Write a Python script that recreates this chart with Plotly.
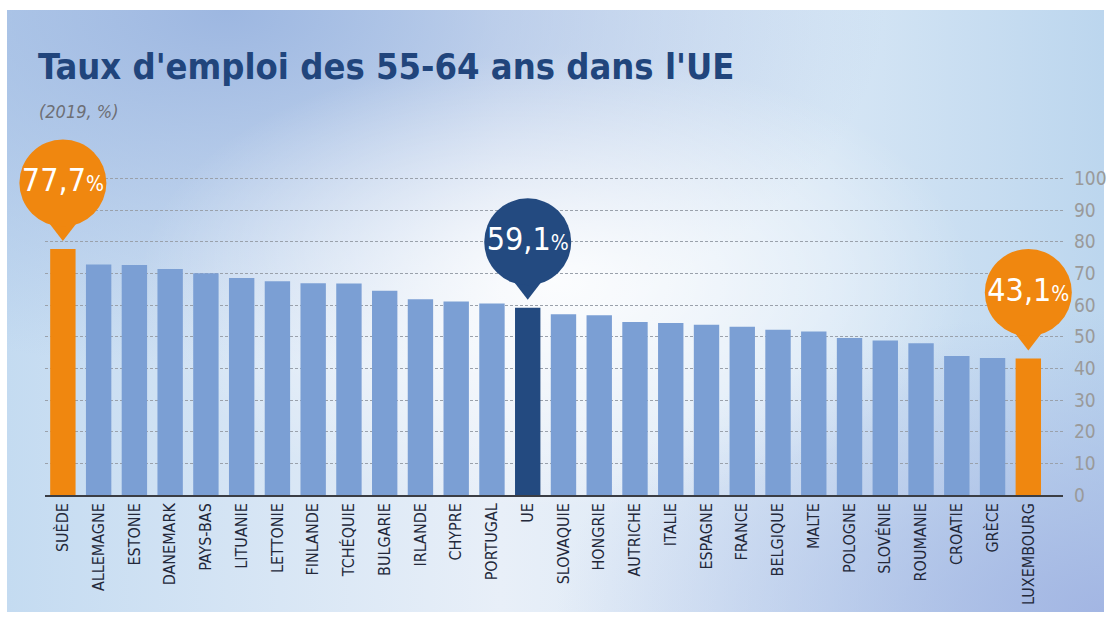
import base64
import plotly.graph_objects as go

# ---------------- data ----------------
categories = ["SUÈDE", "ALLEMAGNE", "ESTONIE", "DANEMARK", "PAYS-BAS", "LITUANIE",
              "LETTONIE", "FINLANDE", "TCHÉQUIE", "BULGARIE", "IRLANDE", "CHYPRE",
              "PORTUGAL", "UE", "SLOVAQUIE", "HONGRIE", "AUTRICHE", "ITALIE",
              "ESPAGNE", "FRANCE", "BELGIQUE", "MALTE", "POLOGNE", "SLOVÉNIE",
              "ROUMANIE", "CROATIE", "GRÈCE", "LUXEMBOURG"]
values = [77.7, 72.8, 72.6, 71.4, 70.0, 68.5, 67.5, 66.9, 66.8, 64.5, 61.8, 61.1,
          60.5, 59.1, 57.1, 56.8, 54.6, 54.3, 53.8, 53.1, 52.2, 51.6, 49.6, 48.8,
          47.9, 43.9, 43.3, 43.1]
highlight_orange = ["SUÈDE", "LUXEMBOURG"]
highlight_navy = ["UE"]
y_ticks = [0, 10, 20, 30, 40, 50, 60, 70, 80, 90, 100]

title_text = "Taux d'emploi des 55-64 ans dans l'UE"
subtitle_text = "(2019, %)"

# ---------------- style ----------------
W, H = 1112, 618
ML, MR, MT, MB = 45, 49, 172, 123
PW, PH = W - ML - MR, H - MT - MB
Y_MAX = 102
FONT = "Liberation Sans Narrow, DejaVu Sans Condensed, Roboto Condensed, Roboto, sans-serif"
BLUE = "#7b9fd4"
NAVY = "#234a80"
ORANGE = "#f0870f"


def px_x(p):
    return (p - ML) / PW


def px_y(p):
    return (H - MB - p) / PH


colors = []
for c in categories:
    if c in highlight_orange:
        colors.append(ORANGE)
    elif c in highlight_navy:
        colors.append(NAVY)
    else:
        colors.append(BLUE)

fig = go.Figure()
fig.add_trace(go.Bar(x=categories, y=values, marker=dict(color=colors, line=dict(width=0)),
                     hoverinfo="x+y"))

# callouts (circle + tail)
unit_px = PH / Y_MAX
call_cats = [c for c in categories if c in highlight_orange + highlight_navy]
call_vals = [values[categories.index(c)] for c in call_cats]
call_cols = [NAVY if c in highlight_navy else ORANGE for c in call_cats]
call_txt = [f"{v:.1f}".replace(".", ",") + "<span style='font-size:21px'>%</span>" for v in call_vals]

fig.add_trace(go.Scatter(x=call_cats, y=[v + 22 / unit_px for v in call_vals], mode="markers",
                         marker=dict(symbol="triangle-down", size=28, color=call_cols, line=dict(width=0)),
                         cliponaxis=False, hoverinfo="skip", showlegend=False))
fig.add_trace(go.Scatter(x=call_cats, y=[v + 66 / unit_px for v in call_vals], mode="markers+text",
                         marker=dict(symbol="circle", size=87, color=call_cols, line=dict(width=0)),
                         text=call_txt, textposition="middle center",
                         textfont=dict(family=FONT, size=32, color="white"),
                         cliponaxis=False, hoverinfo="skip", showlegend=False))

# background gradient image
svg = """<svg xmlns='http://www.w3.org/2000/svg' width='1097' height='602' viewBox='0 0 1097 602'>
<defs>
<linearGradient id='base' x1='0' y1='0' x2='1' y2='0'>
<stop offset='0' stop-color='#c4dbf1'/><stop offset='0.45' stop-color='#e8eff8'/>
<stop offset='0.75' stop-color='#d6e6f5'/><stop offset='1' stop-color='#bcd6ee'/></linearGradient>
<radialGradient id='tl' cx='0.2' cy='0' r='0.6' gradientUnits='objectBoundingBox'>
<stop offset='0' stop-color='#9db7e1' stop-opacity='1'/><stop offset='1' stop-color='#9db7e1' stop-opacity='0'/></radialGradient>
<radialGradient id='br' cx='1' cy='1' r='0.5'>
<stop offset='0' stop-color='#a3b6e3' stop-opacity='1'/><stop offset='1' stop-color='#a3b6e3' stop-opacity='0'/></radialGradient>
<radialGradient id='c' cx='0.5' cy='0.45' r='0.38'>
<stop offset='0' stop-color='#ffffff' stop-opacity='0.9'/><stop offset='1' stop-color='#ffffff' stop-opacity='0'/></radialGradient>
</defs>
<rect width='1097' height='602' fill='url(#base)'/>
<rect width='1097' height='602' fill='url(#tl)'/>
<rect width='1097' height='602' fill='url(#br)'/>
<rect width='1097' height='602' fill='url(#c)'/>
</svg>"""
src = "data:image/svg+xml;base64," + base64.b64encode(svg.encode()).decode()

fig.update_layout(
    width=W, height=H,
    margin=dict(l=ML, r=MR, t=MT, b=MB, pad=0, autoexpand=False),
    paper_bgcolor="white", plot_bgcolor="rgba(0,0,0,0)",
    showlegend=False, bargap=0.29,
    font=dict(family=FONT),
    images=[dict(source=src, xref="paper", yref="paper", x=px_x(7), y=px_y(10),
                 sizex=(1104 - 7) / PW, sizey=(612 - 10) / PH, sizing="stretch",
                 xanchor="left", yanchor="top", layer="below")],
    xaxis=dict(type="category", range=[-0.5, 27.97], showline=True, linecolor="#3a3d44",
               linewidth=1.5, tickangle=-90, tickfont=dict(family=FONT, size=16, color="#23283a"),
               showgrid=False, zeroline=False, ticks="", fixedrange=True, automargin=False),
    yaxis=dict(range=[0, Y_MAX], tickvals=y_ticks, side="right", showgrid=True,
               gridcolor="#9aa1ab", griddash="3px,2px", gridwidth=1, zeroline=False,
               showline=False, ticks="", ticklabelstandoff=10, automargin=False,
               tickfont=dict(family=FONT, size=19, color="#9a9a9a"), fixedrange=True),
    annotations=[
        dict(text=f"<b>{title_text}</b>", xref="paper", yref="paper", x=px_x(36), y=px_y(66),
             xanchor="left", yanchor="middle", showarrow=False,
             font=dict(family=FONT, size=36, color="#21457c")),
        dict(text=f"<i>{subtitle_text}</i>", xref="paper", yref="paper", x=px_x(37), y=px_y(111),
             xanchor="left", yanchor="middle", showarrow=False,
             font=dict(family=FONT, size=18, color="#6d6f75")),
    ],
)

fig.write_html("out.html")
